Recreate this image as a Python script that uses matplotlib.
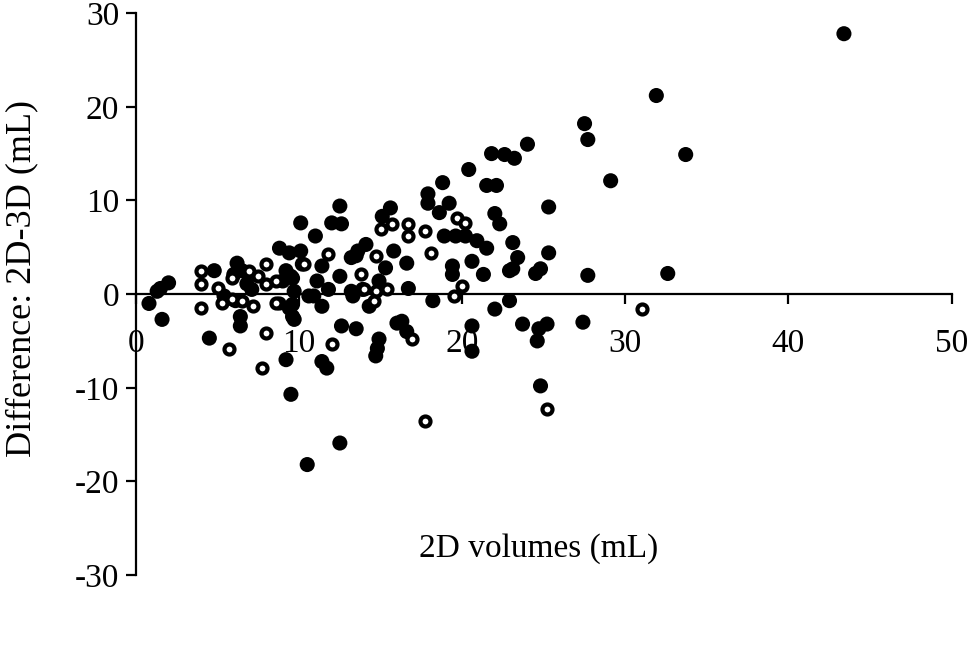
import numpy as np
import matplotlib
matplotlib.use('Agg')
import matplotlib.pyplot as plt

# filled points: 2D volume (mL), difference 2D-3D (mL)
filled_x = [43.4, 31.9, 27.5, 27.7, 29.1, 33.7, 32.6, 27.7, 27.4, 25.3,
            25.3, 24.8, 24.5, 25.2, 24.7, 24.6, 24.8, 24.0, 21.8, 22.6,
            23.2, 20.4, 18.8, 21.5, 22.1, 22.0, 22.3, 19.2, 18.6, 18.9,
            19.6, 20.2, 20.9, 21.5, 23.1, 23.4, 20.6, 19.4, 19.4, 21.3,
            22.9, 22.9, 22.0, 23.7, 20.6, 20.6, 17.9, 17.9, 16.6, 16.7,
            18.2, 16.3, 16.6, 16.0, 12.5, 10.1, 12.0, 12.6, 11.0, 15.6,
            15.1, 15.8, 14.1, 13.5, 13.2, 15.3, 8.8, 9.4, 10.1, 11.4,
            12.5, 14.9, 9.2, 9.6, 9.0, 13.3, 14.3, 10.6, 10.9, 11.4,
            9.6, 9.6, 12.6, 13.5, 14.9, 14.8, 14.7, 11.4, 11.7, 9.2,
            2.0, 1.5, 1.3, 0.8, 1.6, 4.8, 4.5, 6.2, 6.0, 5.4,
            6.5, 6.4, 6.4, 7.1, 9.5, 9.7, 9.4, 9.7, 9.5, 10.5,
            12.5, 10.2, 13.6, 13.2, 13.9, 23.1, 6.8, 6.1, 11.1, 11.8]
filled_y = [27.8, 21.2, 18.2, 16.5, 12.1, 14.9, 2.2, 2.0, -3.0, 9.3,
            4.4, 2.7, 2.2, -3.2, -3.7, -5.0, -9.8, 16.0, 15.0, 14.9,
            14.5, 13.3, 11.9, 11.6, 11.6, 8.6, 7.5, 9.7, 8.7, 6.2,
            6.2, 6.2, 5.7, 4.9, 5.5, 3.9, 3.5, 3.0, 2.1, 2.1,
            2.5, -0.7, -1.6, -3.2, -3.4, -6.1, 10.7, 9.7, 3.3, 0.6,
            -0.7, -2.9, -4.0, -3.1, 9.4, 7.6, 7.6, 7.5, 6.2, 9.2,
            8.3, 4.6, 5.3, 4.1, 3.9, 2.8, 4.9, 4.4, 4.6, 3.0,
            1.9, 1.4, 2.5, 1.7, 1.4, -0.2, -1.3, -0.2, -0.2, -1.3,
            -1.1, -2.4, -3.4, -3.7, -4.8, -5.8, -6.6, -7.2, -7.9, -7.0,
            1.2, 0.6, 0.3, -1.0, -2.7, 2.5, -4.7, 3.3, 2.1, -0.2,
            2.5, -2.4, -3.4, 0.5, 1.9, 0.3, -1.5, -2.7, -10.7, -18.2,
            -15.9, 3.2, 4.6, 0.3, 0.5, 2.7, 1.1, -0.7, 1.4, 0.5]

# open points
open_x = [31.0, 25.2, 19.7, 20.2, 20.0, 19.5, 16.7, 16.7, 17.7, 18.1,
          16.9, 15.0, 15.7, 14.7, 10.3, 11.8, 13.8, 14.0, 14.7, 15.4,
          14.6, 8.8, 12.0, 4.0, 4.0, 4.0, 5.7, 5.0, 5.9, 5.3,
          5.9, 6.5, 6.9, 7.2, 7.5, 8.0, 8.0, 8.6, 8.6, 8.0,
          7.7, 17.7]
open_y = [-1.6, -12.3, 8.1, 7.6, 0.9, -0.2, 7.5, 6.2, 6.7, 4.4,
          -4.8, 7.0, 7.5, 4.1, 3.2, 4.3, 2.1, 0.5, 0.3, 0.5,
          -0.7, -1.0, -5.3, 2.5, 1.1, -1.5, -5.9, 0.6, 1.7, -1.0,
          -0.5, -0.7, 2.5, -1.3, 1.9, 3.2, 1.1, 1.4, -1.0, -4.2,
          -7.9, -13.5]

xticks = [0, 10, 20, 30, 40, 50]
yticks = [-30, -20, -10, 0, 10, 20, 30]

plt.rcParams['font.family'] = ['Liberation Serif', 'DejaVu Serif']
plt.rcParams['axes.unicode_minus'] = False

fig = plt.figure(figsize=(9.78, 6.55), dpi=100)
ax = fig.add_axes([0.139, 0.122, 0.834, 0.858])

ax.scatter(filled_x, filled_y, s=118, c='black', edgecolors='none', zorder=3)
ax.scatter(open_x, open_y, s=52, facecolors='white', edgecolors='black',
           linewidths=3.0, zorder=4)

ax.set_xlim(0, 50)
ax.set_ylim(-30, 30)
ax.set_xticks(xticks)
ax.set_yticks(yticks)

# x axis runs through zero
ax.spines['bottom'].set_position(('data', 0))
ax.spines['top'].set_visible(False)
ax.spines['right'].set_visible(False)
for s in ['bottom', 'left']:
    ax.spines[s].set_linewidth(1.6)
    ax.spines[s].set_zorder(2)

ax.tick_params(axis='y', direction='out', length=7, width=1.6, pad=5,
               labelsize=24)
ax.tick_params(axis='x', direction='out', length=7, width=1.6, pad=18,
               labelsize=24)

ax.set_ylabel('Difference: 2D-3D (mL)', fontsize=26)
ax.yaxis.set_label_coords(-0.12, 0.528)
ax.text(24.7, -27.2, '2D volumes (mL)', fontsize=24, ha='center', va='center')

fig.savefig('out.png', dpi=100)
